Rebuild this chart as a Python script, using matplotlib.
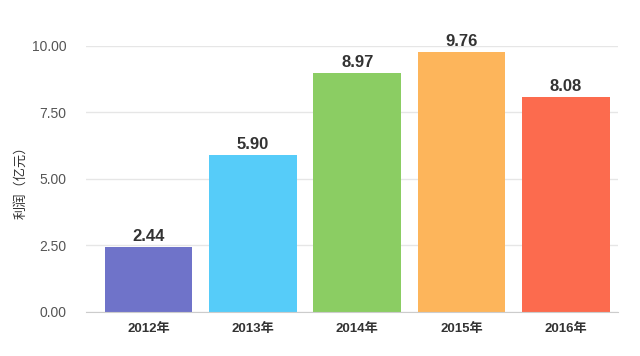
import matplotlib.pyplot as plt

plt.rcParams['font.family'] = ['Liberation Sans', 'Noto Sans CJK SC', 'DejaVu Sans']

years = ['2012年', '2013年', '2014年', '2015年', '2016年']
profit = [2.44, 5.90, 8.97, 9.76, 8.08]
colors = ['#6F73C9', '#56CCF9', '#8BCD63', '#FDB55B', '#FC6B4E']
yticks = [0, 2.5, 5, 7.5, 10]

fig = plt.figure(figsize=(6.4, 3.56), dpi=100)
ax = fig.add_axes([0.134, 0.124, 0.832, 0.747])

x = range(len(years))
ax.bar(x, profit, width=0.84, color=colors, zorder=2)
for i, v in enumerate(profit):
    ax.text(i, v + 0.12, '%.2f' % v, ha='center', va='bottom', fontsize=12,
            fontweight='bold', color='#333333', clip_on=False)

ax.set_xlim(-0.6, 4.5)
ax.set_ylim(0, 10)
ax.set_yticks(yticks)
ax.set_yticklabels(['%.2f' % t for t in yticks], color='#555555', fontsize=10)
ax.set_xticks(list(x))
ax.set_xticklabels(years, fontsize=9.5, fontweight='bold', color='#333333')
ax.tick_params(axis='both', length=0, pad=8)
ax.tick_params(axis='y', pad=14)
ax.grid(axis='y', color='#e6e6e6', linewidth=1, zorder=0)
for s in ['top', 'right', 'left']:
    ax.spines[s].set_visible(False)
ax.spines['bottom'].set_color('#cccccc')
ax.set_ylabel('利润（亿元）', fontsize=9.5, color='#333333', labelpad=3)

fig.savefig('out.png', dpi=100, facecolor='white')
